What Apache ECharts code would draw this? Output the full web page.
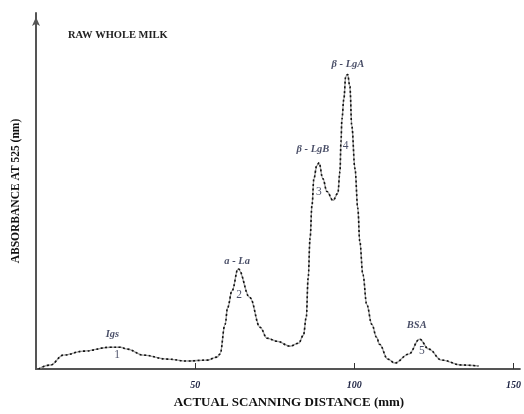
<!DOCTYPE html>
<html>
<head>
<meta charset="utf-8">
<script src="https://cdn.jsdelivr.net/npm/echarts@6/dist/echarts.min.js"></script>
<style>
  html, body { margin: 0; padding: 0; background: #fff; }
  #chart { width: 524px; height: 414px; }
</style>
</head>
<body>
<div id="chart"></div>
<script>
// scanning distance (mm) and absorbance (arbitrary units)
const distance = [0.8, 4.5, 8.6, 14.9, 23.4, 26.5, 28.7, 33.7, 41.2, 47.5, 53.8, 56.9, 57.8,
  59.4, 60.2, 61.6, 63.5, 67.2, 70.4, 72.6, 75.7, 79.8, 82.5, 84.0, 84.9, 85.5, 86.1, 86.7,
  87.3, 88.2, 88.9, 90.1, 91.4, 93.3, 94.8, 95.5, 95.8, 96.1, 96.7, 97.3, 97.9, 98.6, 99.2,
  100.2, 101.1, 101.7, 102.7, 103.9, 105.5, 107.0, 107.9, 110.5, 112.7, 117.1, 120.5, 123.4,
  127.4, 133.7, 139.0];
const absorbance = [0, 4, 14, 18, 22, 22, 20, 14, 10, 8, 9, 12, 15,
  45, 62, 79, 101, 72, 42, 31, 28, 23, 26, 34, 52, 92, 132, 165,
  192, 205, 208, 192, 179, 170, 177, 199, 229, 252, 272, 295, 297, 285, 245,
  202, 162, 129, 95, 65, 45, 32, 25, 10, 6, 15, 30, 20,
  9, 4, 3];

// peak names and numbers, placed in data coordinates
const peakNames = [[24, 35, 'Igs'], [63.2, 109, 'a - La'], [87, 222, 'β - LgB'], [98, 307, 'β - LgA'], [119.6, 44, 'BSA']];
const peakNumbers = [[25.5, 14, '1'], [63.8, 75, '2'], [88.9, 179, '3'], [97.3, 225, '4'], [121.2, 18, '5']];

const xTicks = [50, 100, 150];

const serif = '"Liberation Serif", "DejaVu Serif", serif';
const ink = '#1a2040';

const chart = echarts.init(document.getElementById('chart'));
const points = distance.map((d, i) => [d, absorbance[i]]);

chart.setOption({
  animation: false,
  title: {
    text: 'RAW WHOLE MILK',
    left: 68, top: 30, padding: 0,
    textStyle: { fontFamily: serif, fontSize: 10.5, fontWeight: 'bold', color: '#222' }
  },
  grid: { left: 36, right: 3, top: 13, bottom: 42 },
  xAxis: {
    type: 'value', min: 0, max: 152,
    name: 'ACTUAL SCANNING DISTANCE (mm)',
    nameLocation: 'middle', nameGap: 27,
    nameTextStyle: { fontFamily: serif, fontSize: 13, fontWeight: 'bold', color: '#111', padding: [0, 0, 0, 22] },
    splitLine: { show: false },
    axisLine: { lineStyle: { color: '#555', width: 2 } },
    axisTick: {
      inside: true, length: 6, lineStyle: { color: '#333', width: 1 },
      customValues: xTicks
    },
    axisLabel: {
      customValues: xTicks, margin: 11,
      fontFamily: serif, fontSize: 10, fontStyle: 'italic', fontWeight: 'bold', color: ink
    }
  },
  yAxis: {
    type: 'value', min: 0, max: 359,
    name: 'ABSORBANCE AT 525 (nm)',
    nameLocation: 'middle', nameGap: 14, nameRotate: 90,
    nameTextStyle: { fontFamily: serif, fontSize: 11.5, fontWeight: 'bold', color: '#111' },
    splitLine: { show: false },
    axisTick: { show: false },
    axisLabel: { show: false },
    axisLine: { show: true, symbol: ['none', 'arrow'], symbolSize: [6, 9], symbolOffset: [0, -4], lineStyle: { color: '#555', width: 2 } }
  },
  series: [
    {
      type: 'line', data: points, smooth: 0.4, smoothMonotone: 'x', showSymbol: false,
      lineStyle: { color: '#a0a0a0', width: 1.4 }
    },
    {
      type: 'line', data: points, smooth: 0.4, smoothMonotone: 'x', showSymbol: false,
      lineStyle: { color: '#111', width: 1.6, type: [2, 2.5] }
    },
    {
      type: 'scatter', data: peakNames, symbolSize: 0,
      label: {
        show: true, position: 'inside', formatter: p => p.value[2],
        fontFamily: serif, fontSize: 10.5, fontStyle: 'italic', fontWeight: 'bold', color: ink
      }
    },
    {
      type: 'scatter', data: peakNumbers, symbolSize: 0,
      label: {
        show: true, position: 'inside', formatter: p => p.value[2],
        fontFamily: serif, fontSize: 11.5, color: ink
      }
    }
  ]
});
</script>
</body>
</html>
